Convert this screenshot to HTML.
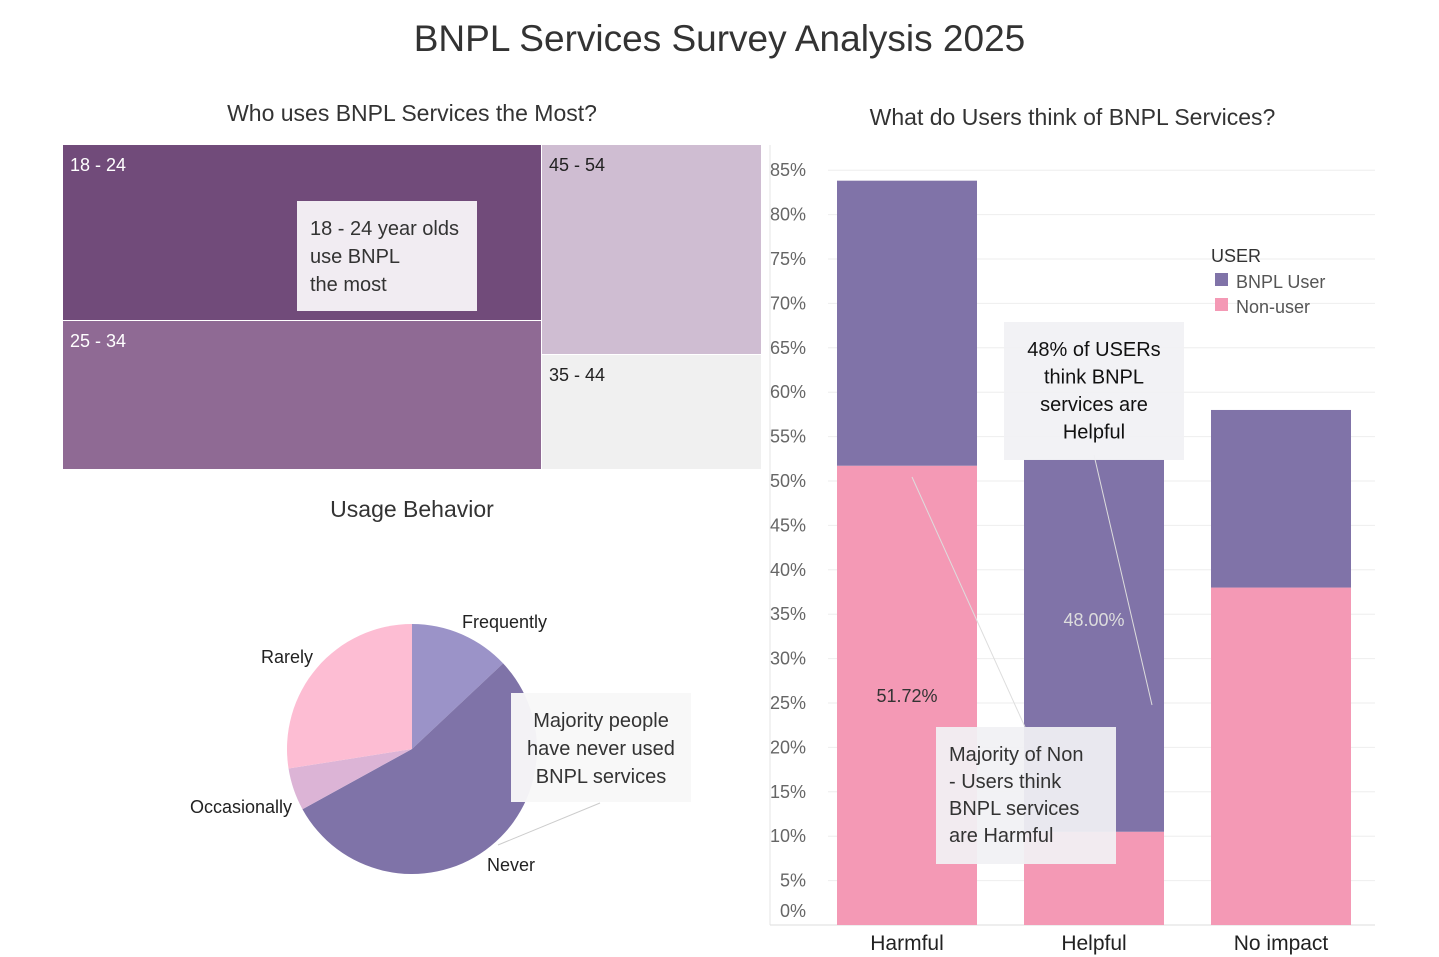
<!DOCTYPE html>
<html><head><meta charset="utf-8"><style>
body{margin:0;width:1439px;height:957px;background:#fff;font-family:"Liberation Sans",sans-serif;position:relative;overflow:hidden;color:#333}
.abs{position:absolute}
</style></head><body>
<div class="abs" style="left:0;width:1439px;top:18px;text-align:center;font-size:37px;color:#333">BNPL Services Survey Analysis 2025</div>
<div class="abs" style="left:63px;width:698px;top:100px;text-align:center;font-size:23px">Who uses BNPL Services the Most?</div>
<div class="abs" style="left:770px;width:605px;top:104px;text-align:center;font-size:23px">What do Users think of BNPL Services?</div>
<div class="abs" style="left:63px;width:698px;top:496px;text-align:center;font-size:23px">Usage Behavior</div>
<svg id="tm" class="abs" style="left:0;top:0" width="1439" height="957"></svg>
<script>
const NS="http://www.w3.org/2000/svg";
const svg=document.getElementById('tm');
function el(t,a,txt){const e=document.createElementNS(NS,t);for(const k in a)e.setAttribute(k,a[k]);if(txt!=null)e.textContent=txt;svg.appendChild(e);return e;}
// treemap
const tmCats=["18 - 24","25 - 34","45 - 54","35 - 44"];
const tmRects=[[63,145,478,175,"#714b7a","#fff"],[63,321,478,148,"#8f6a94","#fff"],[542,145,219,209,"#cfbdd2","#222"],[542,355,219,114,"#f0f0f0","#222"]];
tmCats.forEach((c,i)=>{const r=tmRects[i];
const b=el('rect',{x:r[0],y:r[1],width:r[2],height:r[3],fill:r[4]});


const t=el('text',{x:r[0]+7,y:r[1]+26,fill:r[5],'font-size':18,'font-family':'Liberation Sans'},c);

});
el('rect',{x:297,y:201,width:180,height:110,fill:"#f1ecf2"});
["18 - 24 year olds","use BNPL","the most"].forEach((s,i)=>el('text',{x:310,y:235+i*28,'font-size':20,fill:'#333','font-family':'Liberation Sans'},s));
// pie
const pieCats=["Frequently","Never","Occasionally","Rarely"];
const pieVals=[13,54,5.5,27.5];
const pieCols=["#9b93c8","#7f73a8","#dcb4d6","#fdbdd3"];
const cx=412,cy=749,R=125;let tot=pieVals.reduce((a,b)=>a+b,0),acc=0;
function pt(f,r){const a=f*2*Math.PI;return [cx+r*Math.sin(a),cy-r*Math.cos(a)];}
pieVals.forEach((v,i)=>{const f0=acc/tot,f1=(acc+v)/tot;acc+=v;const p0=pt(f0,R),p1=pt(f1,R);
const p=el('path',{d:`M${cx},${cy}L${p0[0]},${p0[1]}A${R},${R} 0 ${f1-f0>0.5?1:0} 1 ${p1[0]},${p1[1]}Z`,fill:pieCols[i]});

});
const pieLbl=[[462,628,"start"],[487,871,"start"],[292,813,"end"],[313,663,"end"]];
pieCats.forEach((c,i)=>{const t=el('text',{x:pieLbl[i][0],y:pieLbl[i][1],'text-anchor':pieLbl[i][2],'font-size':18,fill:'#222','font-family':'Liberation Sans'},c);

});
el('line',{x1:498,y1:845,x2:600,y2:803,stroke:'#ccc'});
el('rect',{x:511,y:693,width:180,height:109,fill:'#f8f8f8','fill-opacity':0.96});
["Majority people","have never used","BNPL services"].forEach((s,i)=>el('text',{x:601,y:727+i*28,'text-anchor':'middle','font-size':20,fill:'#333','font-family':'Liberation Sans'},s));
// bar chart
const barCats=["Harmful","Helpful","No impact"];
const nonUser=[51.72,10.5,38];
const bnplUser=[32.1,41.9,20];
const userHelpfulShare=48;
const yTicks=[0,5,10,15,20,25,30,35,40,45,50,55,60,65,70,75,80,85];
const y=v=>925-v*8.88, bx=i=>837+i*187, bw=140;
yTicks.forEach(t=>{if(t>0)el('line',{x1:828,x2:1375,y1:y(t),y2:y(t),stroke:'#eee'});
const l=el('text',{x:806,y:(t===0?911:y(t))+6,'text-anchor':'end','font-size':18,fill:'#666','font-family':'Liberation Sans'},t+'%');

});
el('line',{x1:770,x2:770,y1:145,y2:925,stroke:'#e6e6e6'});
el('line',{x1:770,x2:1375,y1:925,y2:925,stroke:'#ddd'});
barCats.forEach((c,i)=>{
const a=el('rect',{x:bx(i),y:y(nonUser[i]),width:bw,height:y(0)-y(nonUser[i]),fill:'#f499b5'});


const b=el('rect',{x:bx(i),y:y(nonUser[i]+bnplUser[i]),width:bw,height:y(0)-y(bnplUser[i]),fill:'#8073a8'});


const t=el('text',{x:bx(i)+bw/2,y:950,'text-anchor':'middle','font-size':21,fill:'#222','font-family':'Liberation Sans'},c);

});
el('text',{x:bx(0)+bw/2,y:702,'text-anchor':'middle','font-size':18,fill:'#333','font-family':'Liberation Sans'},nonUser[0].toFixed(2)+'%');
el('text',{x:bx(1)+bw/2,y:626,'text-anchor':'middle','font-size':18,fill:'#ddd','font-family':'Liberation Sans'},userHelpfulShare.toFixed(2)+'%');
el('line',{x1:912,y1:477,x2:1025,y2:727,stroke:'#ddd'});
el('line',{x1:1094,y1:455,x2:1152,y2:705,stroke:'#ddd'});
el('rect',{x:1004,y:322,width:180,height:138,fill:'#f1f1f4','fill-opacity':0.9});
["48% of USERs","think BNPL","services are","Helpful"].forEach((s,i)=>el('text',{x:1094,y:356+i*27.5,'text-anchor':'middle','font-size':20,fill:'#111','font-family':'Liberation Sans'},s));
el('rect',{x:936,y:727,width:180,height:137,fill:'#f1f1f4','fill-opacity':0.93});
["Majority of Non","- Users think","BNPL services","are Harmful"].forEach((s,i)=>el('text',{x:949,y:761+i*27,'font-size':20,fill:'#333','font-family':'Liberation Sans'},s));
// legend
el('text',{x:1211,y:262,'font-size':18,fill:'#333','font-family':'Liberation Sans'},'USER');
el('rect',{x:1215,y:273,width:13,height:13,fill:'#8073a8'});
el('text',{x:1236,y:288,'font-size':18,fill:'#555','font-family':'Liberation Sans'},'BNPL User');
el('rect',{x:1215,y:298,width:13,height:13,fill:'#f499b5'});
el('text',{x:1236,y:313,'font-size':18,fill:'#555','font-family':'Liberation Sans'},'Non-user');
</script>
</body></html>
